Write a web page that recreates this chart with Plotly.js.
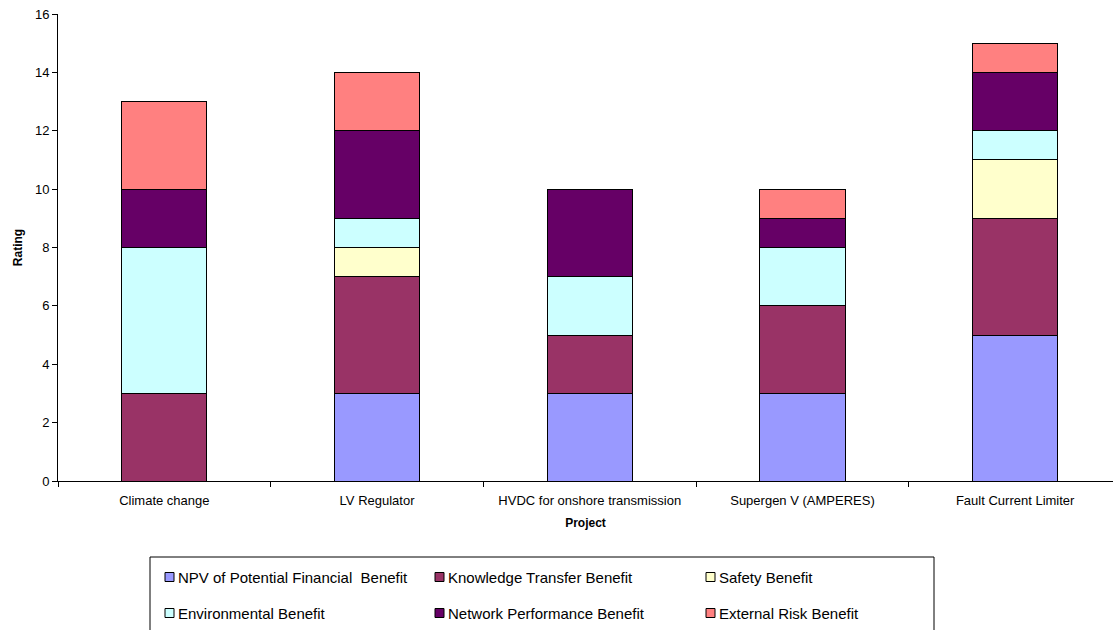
<!DOCTYPE html>
<html>
<head>
<meta charset="utf-8">
<script src="https://cdn.plot.ly/plotly-3.0.1.min.js"></script>
<style>
  html, body { margin: 0; padding: 0; background: #fff; overflow: hidden; }
  #chart { width: 1113px; height: 630px; }
</style>
</head>
<body>
<div id="chart"></div>
<script>
// Projects on the category axis
const projects = [
  'Climate change',
  'LV Regulator',
  'HVDC for onshore transmission',
  'Supergen V (AMPERES)',
  'Fault Current Limiter'
];

// Benefit ratings per project (stacked bottom to top)
const npvFinancial = [0, 3, 3, 3, 5];
const knowledgeTransfer = [3, 4, 2, 3, 4];
const safety = [0, 1, 0, 0, 2];
const environmental = [5, 1, 2, 2, 1];
const networkPerformance = [2, 3, 3, 1, 2];
const externalRisk = [3, 2, 0, 1, 1];

const seriesNames = [
  'NPV of Potential Financial  Benefit',
  'Knowledge Transfer Benefit',
  'Safety Benefit',
  'Environmental Benefit',
  'Network Performance Benefit',
  'External Risk Benefit'
];
const seriesValues = [npvFinancial, knowledgeTransfer, safety, environmental, networkPerformance, externalRisk];
const seriesColors = ['#9999FF', '#993366', '#FFFFCC', '#CCFFFF', '#660066', '#FF8080'];

const yTicks = [0, 2, 4, 6, 8, 10, 12, 14, 16];

const FONT = 'Liberation Sans, Arial, sans-serif';

const traces = seriesNames.map((name, i) => ({
  type: 'bar',
  name: name,
  x: projects,
  y: seriesValues[i],
  width: 0.4,
  marker: { color: seriesColors[i], line: { color: '#000', width: 1 } },
  hoverinfo: 'x+y+name',
  showlegend: false
}));

// Plot area geometry in pixels (used to place the legend box beneath the axes)
const W = 1113, H = 630;
const M = { l: 58, r: 0, t: 14, b: 149 };
const plotW = W - M.l - M.r, plotH = H - M.t - M.b;
const px = x => (x - M.l) / plotW;
const py = y => (H - M.b - y) / plotH;

// Legend: two rows of three entries inside a framed box
const legendCols = [165, 435, 706];
const legendRows = [577, 613];
const shapes = [{
  type: 'rect', xref: 'paper', yref: 'paper',
  x0: px(150), x1: px(934), y0: py(640), y1: py(557),
  line: { color: '#000', width: 1 }, fillcolor: 'rgba(0,0,0,0)', layer: 'above'
}];
const annotations = [];
seriesNames.forEach((name, i) => {
  const cx = legendCols[i % 3];
  const cy = legendRows[Math.floor(i / 3)];
  shapes.push({
    type: 'rect', xref: 'paper', yref: 'paper',
    x0: px(cx), x1: px(cx + 9), y0: py(cy + 4.5), y1: py(cy - 4.5),
    line: { color: '#000', width: 1 }, fillcolor: seriesColors[i], layer: 'above'
  });
  annotations.push({
    xref: 'paper', yref: 'paper', x: px(cx + 11), y: py(cy),
    xanchor: 'left', yanchor: 'middle', showarrow: false,
    text: name, font: { family: FONT, size: 15, color: '#000' }
  });
});

const layout = {
  width: W, height: H,
  margin: M,
  barmode: 'stack',
  bargap: 0.6,
  paper_bgcolor: '#fff',
  plot_bgcolor: '#fff',
  font: { family: FONT, size: 13, color: '#000' },
  xaxis: {
    type: 'category',
    range: [-0.5, 4.46],
    showline: true, linecolor: '#000', linewidth: 1,
    ticks: 'outside', tickson: 'boundaries', ticklen: 5, tickcolor: '#000',
    ticklabelstandoff: 7,
    showgrid: false, zeroline: false,
    tickfont: { family: FONT, size: 13 },
    title: { text: '<b>Project</b>', font: { family: FONT, size: 12 }, standoff: 12 }
  },
  yaxis: {
    range: [0, 16],
    tickvals: yTicks,
    showline: true, linecolor: '#000', linewidth: 1,
    ticks: 'outside', ticklen: 5, tickcolor: '#000',
    showgrid: false, zeroline: false,
    tickfont: { family: FONT, size: 13 },
    title: { text: '<b>Rating</b>', font: { family: FONT, size: 12 }, standoff: 9 }
  },
  shapes: shapes,
  annotations: annotations,
  showlegend: false
};

Plotly.newPlot('chart', traces, layout, { displayModeBar: false, staticPlot: true });
</script>
</body>
</html>
